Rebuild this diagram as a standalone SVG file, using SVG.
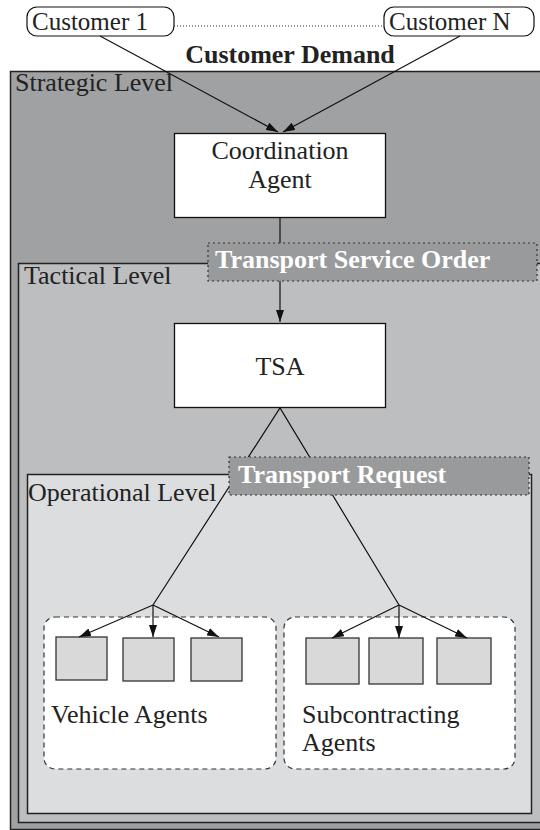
<svg xmlns="http://www.w3.org/2000/svg" width="540" height="830" viewBox="0 0 540 830">
  <defs>
    <style>
      .t { font-family: "Liberation Serif", "Times New Roman", Times, "DejaVu Serif", serif; font-weight: 400; font-style: normal; font-size: 26px; fill: #222; }
      .b { font-family: "Liberation Serif", "Times New Roman", Times, "DejaVu Serif", serif; font-size: 26px; font-weight: 700; }
      .level { stroke: #222; stroke-width: 1.5; }
      .box { fill: #fff; stroke: #111; stroke-width: 1.3; }
      .agent { fill: #d9d9d9; stroke: #333; stroke-width: 1.3; }
      .group { fill: #fff; stroke: #333; stroke-width: 1.2; stroke-dasharray: 5 4; }
      .tag { fill: #999a9b; stroke: #333; stroke-width: 1.2; stroke-dasharray: 2 3; }
      .edge { stroke: #111; stroke-width: 1.2; fill: none; }
    </style>
    <marker id="arrow" viewBox="0 0 12 8" refX="12" refY="4" markerWidth="12" markerHeight="8" markerUnits="userSpaceOnUse" orient="auto">
      <path d="M0,0 L12,4 L0,8 z" fill="#111"/>
    </marker>
  </defs>

  <rect width="540" height="830" fill="#fff"/>

  <!-- nested planning levels -->
  <g id="strategic-level">
    <rect class="level" x="10.5" y="71.5" width="540" height="758" fill="#a0a1a3"/>
    <text class="t" x="15" y="91">Strategic Level</text>
  </g>
  <g id="tactical-level">
    <rect class="level" x="18.5" y="263.5" width="540" height="559" fill="#bdbec0"/>
    <text class="t" x="24" y="284">Tactical Level</text>
  </g>
  <g id="operational-level">
    <rect class="level" x="27.5" y="474.5" width="504" height="339" fill="#dcdddf"/>
    <text class="t" x="28" y="501">Operational Level</text>
  </g>

  <!-- customers -->
  <g id="customer-1">
    <rect x="27" y="7" width="147" height="29" rx="10" fill="#fff" stroke="#111" stroke-width="1.2"/>
    <text class="t" x="32" y="30" style="font-size:25px">Customer 1</text>
  </g>
  <g id="customer-n">
    <rect x="384" y="7" width="150" height="29" rx="10" fill="#fff" stroke="#111" stroke-width="1.2"/>
    <text class="t" x="389" y="30" style="font-size:25px">Customer N</text>
  </g>
  <text class="b" x="290" y="63" text-anchor="middle" fill="#222">Customer Demand</text>

  <!-- agents -->
  <g id="coordination-agent">
    <rect class="box" x="174.5" y="133.5" width="211" height="84"/>
    <text class="t" x="280" y="159" text-anchor="middle">Coordination</text>
    <text class="t" x="280" y="188" text-anchor="middle">Agent</text>
  </g>
  <g id="tsa">
    <rect class="box" x="174.5" y="323.5" width="211" height="84"/>
    <text class="t" x="280" y="375" text-anchor="middle">TSA</text>
  </g>

  <g id="vehicle-agents">
    <rect class="group" x="44" y="617" width="232" height="152" rx="11"/>
    <rect class="agent" x="56" y="637" width="51" height="43"/>
    <rect class="agent" x="123" y="638" width="51" height="43"/>
    <rect class="agent" x="191" y="638" width="51" height="43"/>
    <text class="t" x="51" y="723">Vehicle Agents</text>
  </g>
  <g id="subcontracting-agents">
    <rect class="group" x="284" y="617" width="231" height="152" rx="11"/>
    <rect class="agent" x="306" y="638" width="53" height="46"/>
    <rect class="agent" x="369" y="638" width="54" height="46"/>
    <rect class="agent" x="437" y="638" width="54" height="46"/>
    <text class="t" x="302" y="723">Subcontracting</text>
    <text class="t" x="302" y="751">Agents</text>
  </g>

  <!-- connectors -->
  <g id="connectors">
    <line x1="174" y1="26" x2="384" y2="26" stroke="#333" stroke-width="1.2" stroke-dasharray="1 2"/>
    <line class="edge" x1="100" y1="36" x2="278" y2="132" marker-end="url(#arrow)"/>
    <line class="edge" x1="460" y1="36" x2="283" y2="132" marker-end="url(#arrow)"/>
    <line class="edge" x1="280" y1="218" x2="280" y2="322" marker-end="url(#arrow)"/>
    <polyline class="edge" points="153,605 280,408 399,605"/>
    <line class="edge" x1="153" y1="605" x2="79" y2="637" marker-end="url(#arrow)"/>
    <line class="edge" x1="153" y1="605" x2="153" y2="637" marker-end="url(#arrow)"/>
    <line class="edge" x1="153" y1="605" x2="219" y2="637" marker-end="url(#arrow)"/>
    <line class="edge" x1="399" y1="605" x2="332" y2="638" marker-end="url(#arrow)"/>
    <line class="edge" x1="399" y1="605" x2="399" y2="638" marker-end="url(#arrow)"/>
    <line class="edge" x1="399" y1="605" x2="467" y2="638" marker-end="url(#arrow)"/>
  </g>

  <!-- message labels -->
  <g id="transport-service-order">
    <rect class="tag" x="208" y="243" width="329" height="38"/>
    <text class="b" x="215" y="268" fill="#fff">Transport Service Order</text>
  </g>
  <g id="transport-request">
    <rect class="tag" x="229" y="457" width="300" height="38"/>
    <text class="b" x="238" y="483" fill="#fff">Transport Request</text>
  </g>
</svg>
